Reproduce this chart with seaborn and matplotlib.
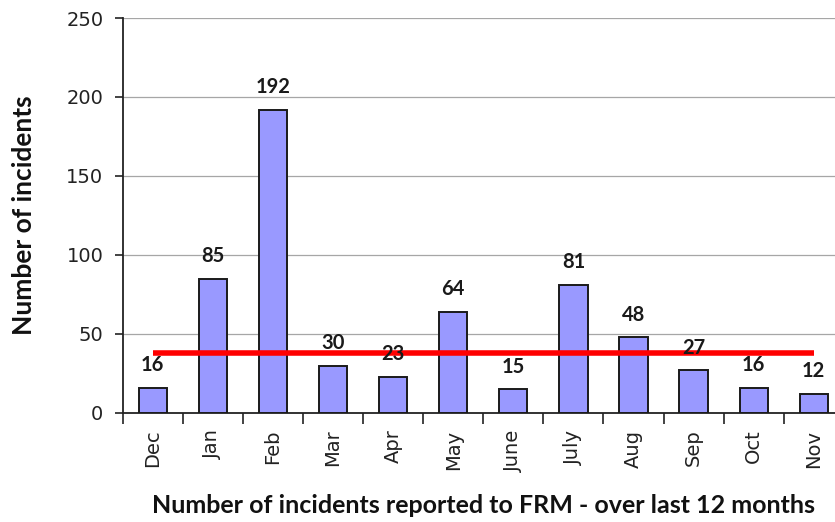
import numpy as np
import pandas as pd
import matplotlib
matplotlib.use('Agg')
import matplotlib.pyplot as plt
import seaborn as sns

# data
months = ['Dec', 'Jan', 'Feb', 'Mar', 'Apr', 'May', 'June', 'July', 'Aug', 'Sep', 'Oct', 'Nov']
incidents = [16, 85, 192, 30, 23, 64, 15, 81, 48, 27, 16, 12]
target_line = 38

df = pd.DataFrame({'month': months, 'incidents': incidents})

sns.set_theme(style='white')
plt.rcParams['font.family'] = ['DejaVu Sans']

fig = plt.figure(figsize=(8.35, 5.22), dpi=100)
ax = fig.add_axes([0.147, 0.209, 0.8635, 0.7565])

sns.barplot(data=df, x='month', y='incidents', color='#9999FF', saturation=1,
            width=0.47, edgecolor='#1a1a1a', linewidth=1.4, ax=ax, zorder=3)

# red reference line across all months
ax.plot(np.arange(len(months)), [target_line] * len(months), color='#FF0000', lw=4,
        solid_capstyle='butt', zorder=4)

for i, v in enumerate(incidents):
    ax.annotate(str(v), (i, v), xytext=(0, 9), textcoords='offset points',
                ha='center', va='bottom', fontsize=14.5, fontweight='bold',
                family='Lato', color='#1a1a1a', zorder=5)

ax.set_ylim(0, 250)
ax.set_xlim(-0.5, len(months) - 0.5)
ax.set_yticks(range(0, 251, 50))
ax.yaxis.grid(True, color='#a6a6a6', lw=0.9)
ax.set_axisbelow(True)

ax.set_xticks(np.arange(len(months)))
ax.set_xticklabels(months, rotation=90, fontsize=14, color='#222222')
ax.set_xticks(np.arange(len(months)) - 0.5, minor=True)
ax.tick_params(axis='x', which='major', length=0, pad=12)
ax.tick_params(axis='x', which='minor', length=8, width=1.2, color='#222222', direction='out', bottom=True)
ax.tick_params(axis='y', length=6, width=1.2, color='#222222', direction='out', left=True,
               labelsize=14, labelcolor='#222222', pad=8)

for s in ['top', 'right']:
    ax.spines[s].set_visible(False)
for s in ['left', 'bottom']:
    ax.spines[s].set_color('#222222')
    ax.spines[s].set_linewidth(1.3)

ax.set_xlabel('Number of incidents reported to FRM - over last 12 months', fontsize=18,
              fontweight='bold', family='Lato', color='#111111', labelpad=16)
ax.set_ylabel('Number of incidents', fontsize=19, fontweight='bold', family='Lato',
              color='#111111', labelpad=22)

fig.savefig('out.png', dpi=100)
